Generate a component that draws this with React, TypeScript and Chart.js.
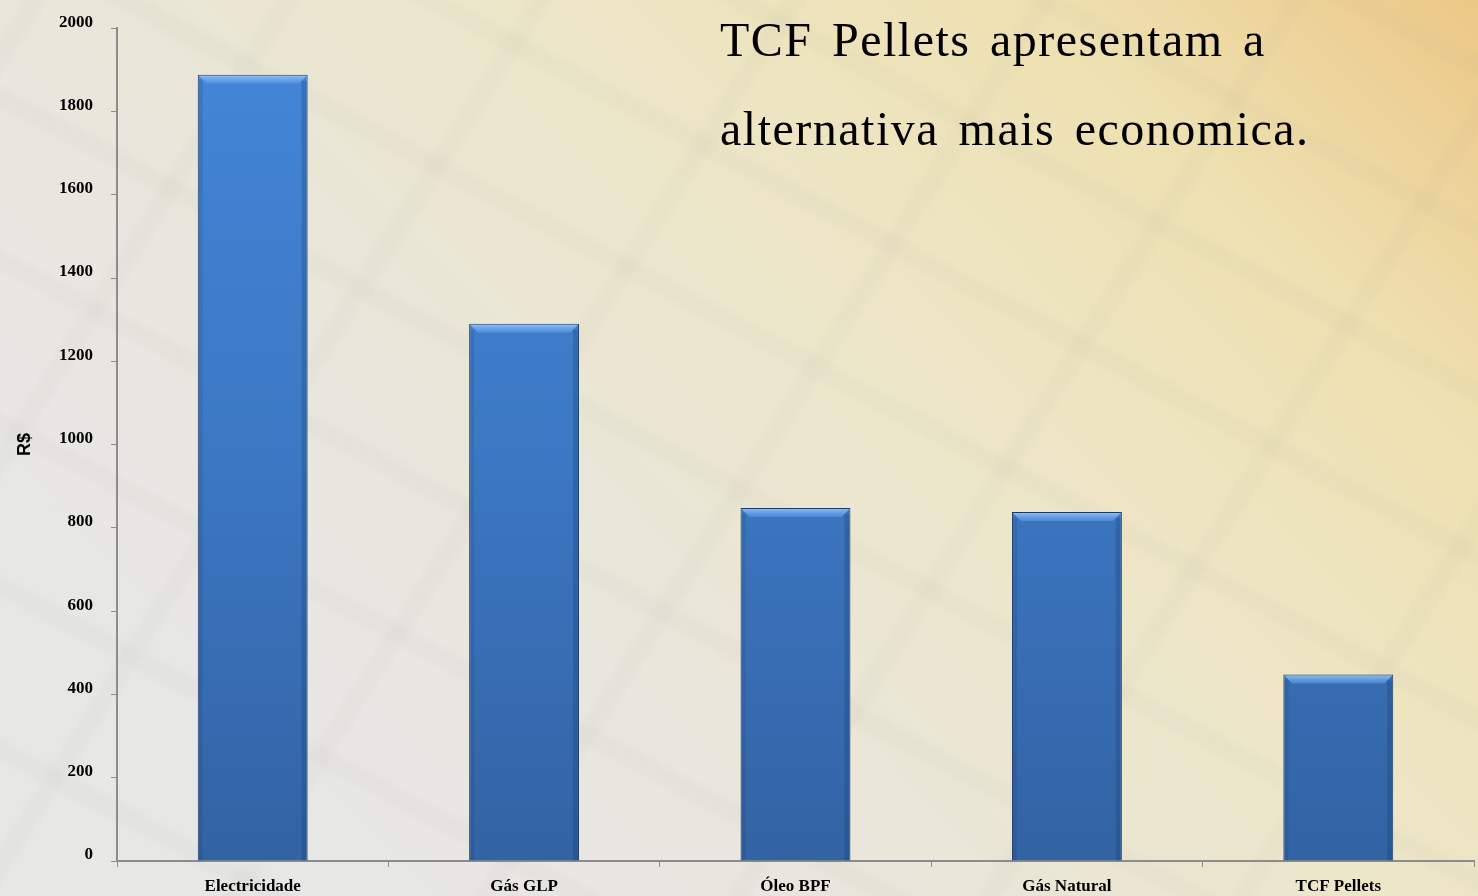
import React, { useEffect, useRef } from "react";
import { Chart, registerables } from "chart.js";

Chart.register(...registerables);

const categories = ["Electricidade", "Gás GLP", "Óleo BPF", "Gás Natural", "TCF Pellets"];
const values = [1888, 1290, 848, 838, 448];
const yTicks = [0, 200, 400, 600, 800, 1000, 1200, 1400, 1600, 1800, 2000];
const yTitle = "R$";
const noteLines = ["TCF Pellets apresentam a", "alternativa mais economica."];

const bevelPlugin = {
  id: "bevel",
  afterDatasetsDraw(chart: any) {
    const ctx = chart.ctx;
    const meta = chart.getDatasetMeta(0);
    meta.data.forEach((bar: any) => {
      const p = bar.getProps(["x", "y", "base", "width"], true);
      const l = p.x - p.width / 2;
      const r = p.x + p.width / 2;
      const t = p.y;
      const d = 9;
      ctx.save();
      const g = ctx.createLinearGradient(0, t, 0, t + d);
      g.addColorStop(0, "rgba(150,200,255,0.95)");
      g.addColorStop(1, "rgba(90,150,225,0.6)");
      ctx.fillStyle = g;
      ctx.beginPath();
      ctx.moveTo(l + 1, t + 1);
      ctx.lineTo(r - 1, t + 1);
      ctx.lineTo(r - d, t + d);
      ctx.lineTo(l + d, t + d);
      ctx.closePath();
      ctx.fill();
      ctx.fillStyle = "rgba(20,50,100,0.25)";
      ctx.fillRect(r - 6, t + 6, 5, p.base - t - 6);
      ctx.fillStyle = "rgba(20,50,100,0.15)";
      ctx.fillRect(l + 1, t + 6, 4, p.base - t - 6);
      ctx.restore();
    });
  },
};

export default function App() {
  const ref = useRef<HTMLCanvasElement>(null);
  useEffect(() => {
    const canvas = ref.current!;
    const chart = new Chart(canvas, {
      type: "bar",
      data: {
        labels: categories,
        datasets: [
          {
            data: values,
            backgroundColor: (c: any) => {
              const area = c.chart.chartArea;
              if (!area) return "#3d7dcc";
              const g = c.chart.ctx.createLinearGradient(0, area.top, 0, area.bottom);
              g.addColorStop(0, "#4486d8");
              g.addColorStop(0.5, "#3c78c4");
              g.addColorStop(1, "#3263a3");
              return g;
            },
            borderColor: "#1d3a62",
            borderWidth: 1,
            categoryPercentage: 1,
            barPercentage: 0.405,
          },
        ],
      },
      plugins: [bevelPlugin],
      options: {
        responsive: false,
        animation: false,
        layout: { padding: { top: 26, right: 4, left: 0, bottom: 0 } },
        plugins: { legend: { display: false }, tooltip: { enabled: false } },
        scales: {
          x: {
            grid: { drawOnChartArea: false, color: "#8c8c8c", tickLength: 6, offset: true },
            border: { color: "#8c8c8c", width: 2 },
            ticks: {
              color: "#000",
              padding: 9,
              font: { family: "'Liberation Serif', serif", size: 17, weight: "bold" },
            },
            afterFit: (s: any) => {
              s.height = 35;
            },
          },
          y: {
            min: 0,
            max: 2000,
            afterBuildTicks: (s: any) => {
              s.ticks = yTicks.map((v) => ({ value: v }));
            },
            grid: { drawOnChartArea: false, color: "#8c8c8c", tickLength: 6 },
            border: { color: "#8c8c8c", width: 2 },
            ticks: {
              color: "#000",
              padding: 18,
              labelOffset: -6,
              callback: (v: any) => String(v),
              font: { family: "'Liberation Serif', serif", size: 17, weight: "bold" },
            },
            title: {
              display: true,
              text: yTitle,
              color: "#000",
              padding: { top: 14, bottom: 0 },
              font: { family: "'Liberation Sans', sans-serif", size: 18, weight: "bold" },
            },
            afterFit: (s: any) => {
              s.width = 117;
            },
          },
        },
      },
    });
    return () => chart.destroy();
  }, []);

  const bg =
    "repeating-linear-gradient(28deg, rgba(150,150,150,0) 0px, rgba(150,150,150,0) 116px, rgba(160,160,150,0.05) 124px, rgba(160,160,150,0.06) 134px, rgba(150,150,150,0) 144px)," +
    "repeating-linear-gradient(-58deg, rgba(150,150,150,0) 0px, rgba(150,150,150,0) 186px, rgba(160,160,150,0.05) 194px, rgba(160,160,150,0.06) 204px, rgba(150,150,150,0) 214px)," +
    "linear-gradient(225deg, #ecc886 0%, #eee0b0 18%, #ede6c8 40%, #e9e6dc 62%, #e7e7e6 85%)";

  return (
    <div
      style={{
        position: "fixed",
        left: 0,
        top: 0,
        width: 1478,
        height: 896,
        background: bg,
        overflow: "hidden",
      }}
    >
      <canvas ref={ref} width={1478} height={896} style={{ position: "absolute", left: 0, top: 0 }} />
      <div
        style={{
          position: "absolute",
          left: 720,
          top: -5,
          fontFamily: "'Liberation Serif', serif",
          fontSize: 48,
          lineHeight: "89px",
          letterSpacing: 1.5,
          color: "#000",
          wordSpacing: 6,
          whiteSpace: "nowrap",
        }}
      >
        {noteLines.map((l, i) => (
          <div key={i}>{l}</div>
        ))}
      </div>
    </div>
  );
}
